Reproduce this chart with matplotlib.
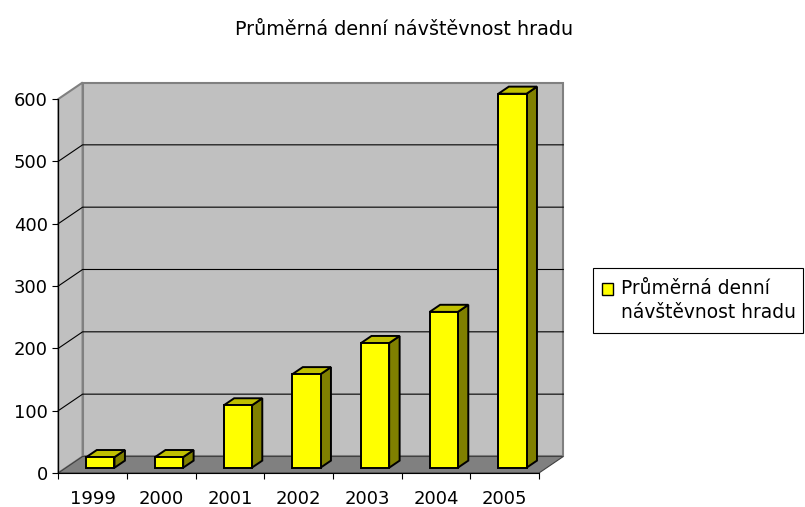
#!/usr/bin/env python3
"""Excel-style pseudo-3D column chart: average daily visitors of the castle."""
import matplotlib
matplotlib.use("Agg")
import matplotlib.pyplot as plt
from matplotlib.patches import Polygon, Rectangle

YEARS = ["1999", "2000", "2001", "2002", "2003", "2004", "2005"]
VISITORS = [17, 17, 100, 150, 200, 250, 600]
Y_TICKS = [0, 100, 200, 300, 400, 500, 600]
TITLE = "Průměrná denní návštěvnost hradu"
LEGEND_LINES = ["Průměrná denní", "návštěvnost hradu"]

W, H = 805, 507
# depth of the box, in data units (categories, visitors)
DEPTH_X = 0.354
DEPTH_Y = 26.5
BAR_W = 0.41
BAR_FRONT = 0.32   # where the bar front face sits inside the depth
BAR_DEPTH = 0.43   # how deep a bar is, as part of the box depth

WALL = "#c0c0c0"
FLOOR = "#808080"
EDGE = "#808080"
FRONT = "#ffff00"
SIDE = "#808000"
TOP = "#c0c000"


def poly(ax, pts, fc, ec, lw, z):
    ax.add_patch(Polygon(pts, closed=True, facecolor=fc, edgecolor=ec,
                         linewidth=lw, joinstyle="miter", clip_on=False, zorder=z))


def main():
    n = len(YEARS)
    ymax = Y_TICKS[-1]
    fig = plt.figure(figsize=(W / 100, H / 100), dpi=100)
    ax = fig.add_axes([58.3 / W, 34 / H, 7.6 * 68.67 / W, 660 * 0.6233 / H])
    ax.set_xlim(0, 7.6)
    ax.set_ylim(0, 660)
    ax.patch.set_visible(False)

    # walls and floor
    poly(ax, [(0, 0), (DEPTH_X, DEPTH_Y), (DEPTH_X, ymax + DEPTH_Y), (0, ymax)],
         WALL, EDGE, 1.5, 1)
    poly(ax, [(DEPTH_X, DEPTH_Y), (n + DEPTH_X, DEPTH_Y),
              (n + DEPTH_X, ymax + DEPTH_Y), (DEPTH_X, ymax + DEPTH_Y)],
         WALL, EDGE, 1.5, 1)
    poly(ax, [(0, 0), (n, 0), (n + DEPTH_X, DEPTH_Y), (DEPTH_X, DEPTH_Y)],
         FLOOR, "#404040", 0.8, 1.5)

    for v in Y_TICKS[1:-1]:
        ax.plot([0, DEPTH_X, n + DEPTH_X], [v, v + DEPTH_Y, v + DEPTH_Y],
                color="black", lw=0.8, zorder=2, clip_on=False)

    # bars
    bx = BAR_DEPTH * DEPTH_X
    by = BAR_DEPTH * DEPTH_Y
    for i, v in enumerate(VISITORS):
        x0 = i + (1 - BAR_W) / 2 + BAR_FRONT * DEPTH_X
        y0 = BAR_FRONT * DEPTH_Y
        x1 = x0 + BAR_W
        y1 = y0 + v
        poly(ax, [(x1, y0), (x1 + bx, y0 + by), (x1 + bx, y1 + by), (x1, y1)],
             SIDE, "black", 1.4, 3)
        poly(ax, [(x0, y1), (x1, y1), (x1 + bx, y1 + by), (x0 + bx, y1 + by)],
             TOP, "black", 1.4, 3)
        poly(ax, [(x0, y0), (x1, y0), (x1, y1), (x0, y1)],
             FRONT, "black", 1.4, 4)

    # axes
    for side in ("top", "right"):
        ax.spines[side].set_visible(False)
    ax.spines["left"].set_bounds(0, ymax)
    ax.spines["bottom"].set_bounds(0, n)
    for side in ("left", "bottom"):
        ax.spines[side].set_linewidth(0.8)
        ax.spines[side].set_zorder(5)
    ax.set_yticks(Y_TICKS)
    ax.tick_params(axis="y", length=4, width=0.8, pad=3.5, labelsize=13)
    ax.set_xticks(range(n + 1))
    ax.set_xticklabels([])
    ax.set_xticks([i + 0.5 for i in range(n)], minor=True)
    ax.set_xticklabels(YEARS, minor=True)
    ax.tick_params(axis="x", which="major", length=4.5, width=0.8)
    ax.tick_params(axis="x", which="minor", length=0, pad=12.5, labelsize=13)

    fig.text(404 / W, 1 - 35 / H, TITLE, ha="center", va="baseline", fontsize=13.8)

    # legend box
    fig.patches.append(Rectangle((592.7 / W, 1 - 332.7 / H), 210 / W, 65 / H,
                                 transform=fig.transFigure, facecolor="white",
                                 edgecolor="black", linewidth=0.8))
    fig.patches.append(Rectangle((601.5 / W, 1 - 294.5 / H), 11.5 / W, 11.5 / H,
                                 transform=fig.transFigure, facecolor=FRONT,
                                 edgecolor="black", linewidth=1.0))
    for k, line in enumerate(LEGEND_LINES):
        fig.text(621 / W, 1 - (294.3 + 24 * k) / H, line, ha="left", va="baseline",
                 fontsize=13.4)

    fig.savefig("out.png", dpi=100)
    plt.close(fig)


if __name__ == "__main__":
    main()
